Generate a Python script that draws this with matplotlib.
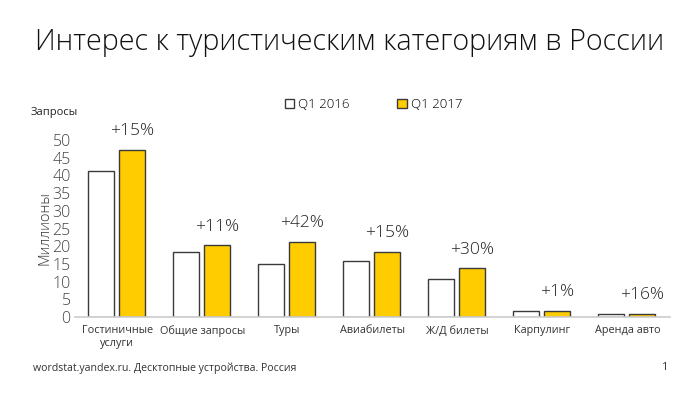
import matplotlib
matplotlib.use("Agg")
import matplotlib.pyplot as plt
import numpy as np

plt.rcParams['font.family'] = ['Open Sans', 'DejaVu Sans']

categories = ["Гостиничные\nуслуги", "Общие запросы", "Туры", "Авиабилеты",
              "Ж/Д билеты", "Карпулинг", "Аренда авто"]
q1_2016 = [41.2, 18.4, 15.0, 15.8, 10.7, 1.7, 0.8]
q1_2017 = [47.2, 20.3, 21.2, 18.4, 13.8, 1.7, 0.9]
growth = ["+15%", "+11%", "+42%", "+15%", "+30%", "+1%", "+16%"]
yticks = [0, 5, 10, 15, 20, 25, 30, 35, 40, 45, 50]

fig = plt.figure(figsize=(7, 3.93), dpi=100)
ax = fig.add_axes([0.107, 0.193, 0.850, 0.451])

x = np.arange(len(categories))
w = 0.31
gap = 0.04
ax.bar(x - w/2 - gap, q1_2016, width=w, color="white", edgecolor="#3a3a3a",
       linewidth=1.0, label="Q1 2016")
ax.bar(x + w/2 + gap/2, q1_2017, width=w, color="#FFCC00", edgecolor="#3a3a3a",
       linewidth=1.0, label="Q1 2017")
for i, (v, g) in enumerate(zip(q1_2017, growth)):
    ax.text(x[i] + w/2 + gap/2, v + 3.0, g, ha="center", va="bottom",
            fontsize=12.5, color="#222222", clip_on=False, fontweight="light")

ax.set_xlim(-0.5, len(categories) - 0.5)
ax.set_ylim(0, 50)
ax.set_yticks(yticks)
ax.set_xticks(x)
ax.set_xticklabels(categories, fontsize=7.8, color="#333333")
ax.tick_params(axis="y", labelsize=11.5, colors="#444444", length=0, pad=3)
ax.tick_params(axis="x", length=0, pad=6)
for lbl in ax.get_yticklabels():
    lbl.set_fontweight("light")
for s in ["top", "right", "left"]:
    ax.spines[s].set_visible(False)
ax.spines["bottom"].set_color("#cccccc")
ax.spines["bottom"].set_linewidth(1.2)
ax.set_ylabel("Миллионы", fontsize=10.5, color="#333333", labelpad=0, fontweight="light")

leg = ax.legend(loc="center", bbox_to_anchor=(0.502, 1.2), ncol=2, frameon=False,
                handlelength=0.7, handleheight=0.7, columnspacing=3.6,
                handletextpad=0.3, prop={"size": 9.5, "weight": "light"})

fig.text(0.05, 0.892, "Интерес к туристическим категориям в России", fontsize=20.7,
         color="#111111", va="center", ha="left", fontweight="light")
fig.text(0.043, 0.715, "Запросы", fontsize=8, color="#222222", va="center")
fig.text(0.047, 0.064, "wordstat.yandex.ru. Десктопные устройства. Россия",
         fontsize=7.6, color="#333333", va="center")
fig.text(0.945, 0.064, "1", fontsize=8, color="#333333", va="center")

fig.savefig("out.png", dpi=100)
